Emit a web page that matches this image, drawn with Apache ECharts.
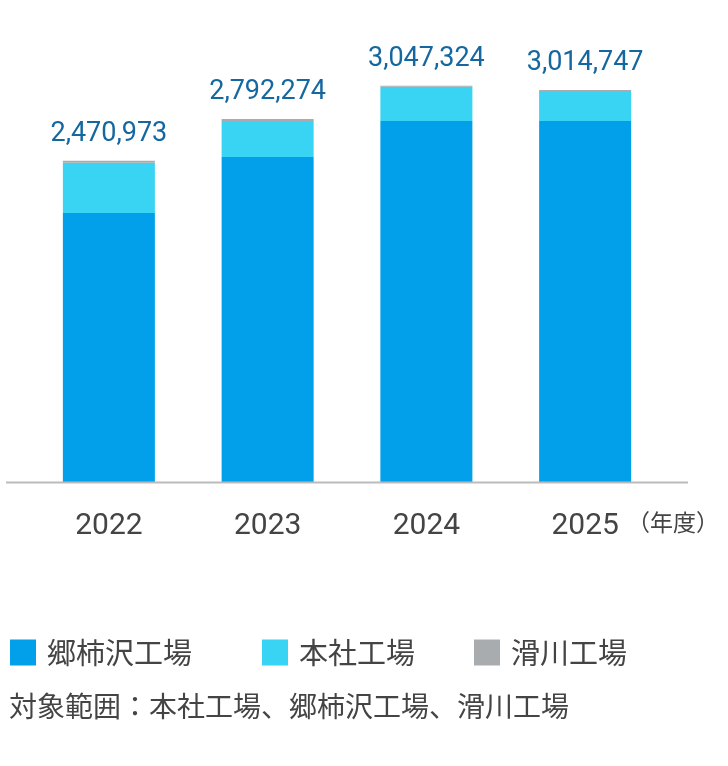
<!DOCTYPE html>
<html>
<head>
<meta charset="utf-8">
<script src="https://cdn.jsdelivr.net/npm/echarts@6/dist/echarts.min.js"></script>
<style>
  html,body{margin:0;padding:0;background:#fff;}
  #main{width:728px;height:766px;}
</style>
</head>
<body>
<div id="main"></div>
<script>
// 年度
const years = ["2022", "2023", "2024", "2025"];
// 郷柿沢工場
const gokakizawa = [2068600, 2499000, 2776000, 2776000];
// 本社工場
const honsha = [386973, 277874, 263624, 231047];
// 滑川工場
const namerikawa = [15400, 15400, 7700, 7700];
// 合計（ラベル）
const totals = [2470973, 2792274, 3047324, 3014747];

const seriesNames = ["郷柿沢工場", "本社工場", "滑川工場"];
const colors = ["#029fea", "#39d3f3", "#a9acae"];

const chart = echarts.init(document.getElementById("main"));

function legendAt(name, left) {
  return {
    data: [name],
    left: left,
    top: 638,
    icon: "rect",
    itemWidth: 26,
    itemHeight: 26,
    itemGap: 0,
    padding: 0,
    selectedMode: false,
    textStyle: {
      fontFamily: "Noto Sans CJK JP",
      fontSize: 29,
      color: "#444",
      padding: [0, 0, 0, 6]
    }
  };
}

let option = {
  animation: false,
  color: colors,
  grid: {
    left: 29.5,
    width: 635,
    top: 82,
    bottom: 284
  },
  legend: [
    legendAt(seriesNames[0], 10),
    legendAt(seriesNames[1], 262),
    legendAt(seriesNames[2], 474)
  ],
  title: {
    text: "対象範囲：本社工場、郷柿沢工場、滑川工場",
    left: 9,
    top: 692,
    padding: 0,
    textStyle: {
      fontFamily: "Noto Sans CJK JP",
      fontSize: 28,
      fontWeight: "normal",
      color: "#444"
    }
  },
  xAxis: {
    type: "category",
    data: years,
    axisLine: {show: false},
    axisTick: {show: false},
    axisLabel: {
      margin: 29,
      fontFamily: "Roboto",
      fontSize: 30,
      color: "#444"
    }
  },
  yAxis: {
    type: "value",
    min: 0,
    max: 3076000,
    show: false,
    splitLine: {show: false}
  },
  graphic: [
    {
      type: "line",
      shape: {x1: 6, y1: 482.5, x2: 688, y2: 482.5},
      style: {stroke: "#bbbbbb", lineWidth: 2},
      z: 10
    },
    {
      type: "text",
      left: 627,
      top: 511,
      style: {
        text: "（年度）",
        font: "23px 'Noto Sans CJK JP'",
        fill: "#444"
      }
    }
  ],
  series: [
    {
      name: seriesNames[0],
      type: "bar",
      stack: "total",
      barWidth: 92,
      data: gokakizawa
    },
    {
      name: seriesNames[1],
      type: "bar",
      stack: "total",
      barWidth: 92,
      data: honsha
    },
    {
      name: seriesNames[2],
      type: "bar",
      stack: "total",
      barWidth: 92,
      data: namerikawa,
      label: {
        show: true,
        position: "top",
        distance: 13,
        fontFamily: "Roboto",
        fontSize: 27,
        color: "#15679f",
        formatter: p => totals[p.dataIndex].toLocaleString("en-US")
      }
    }
  ]
};

chart.setOption(option);
</script>
</body>
</html>
